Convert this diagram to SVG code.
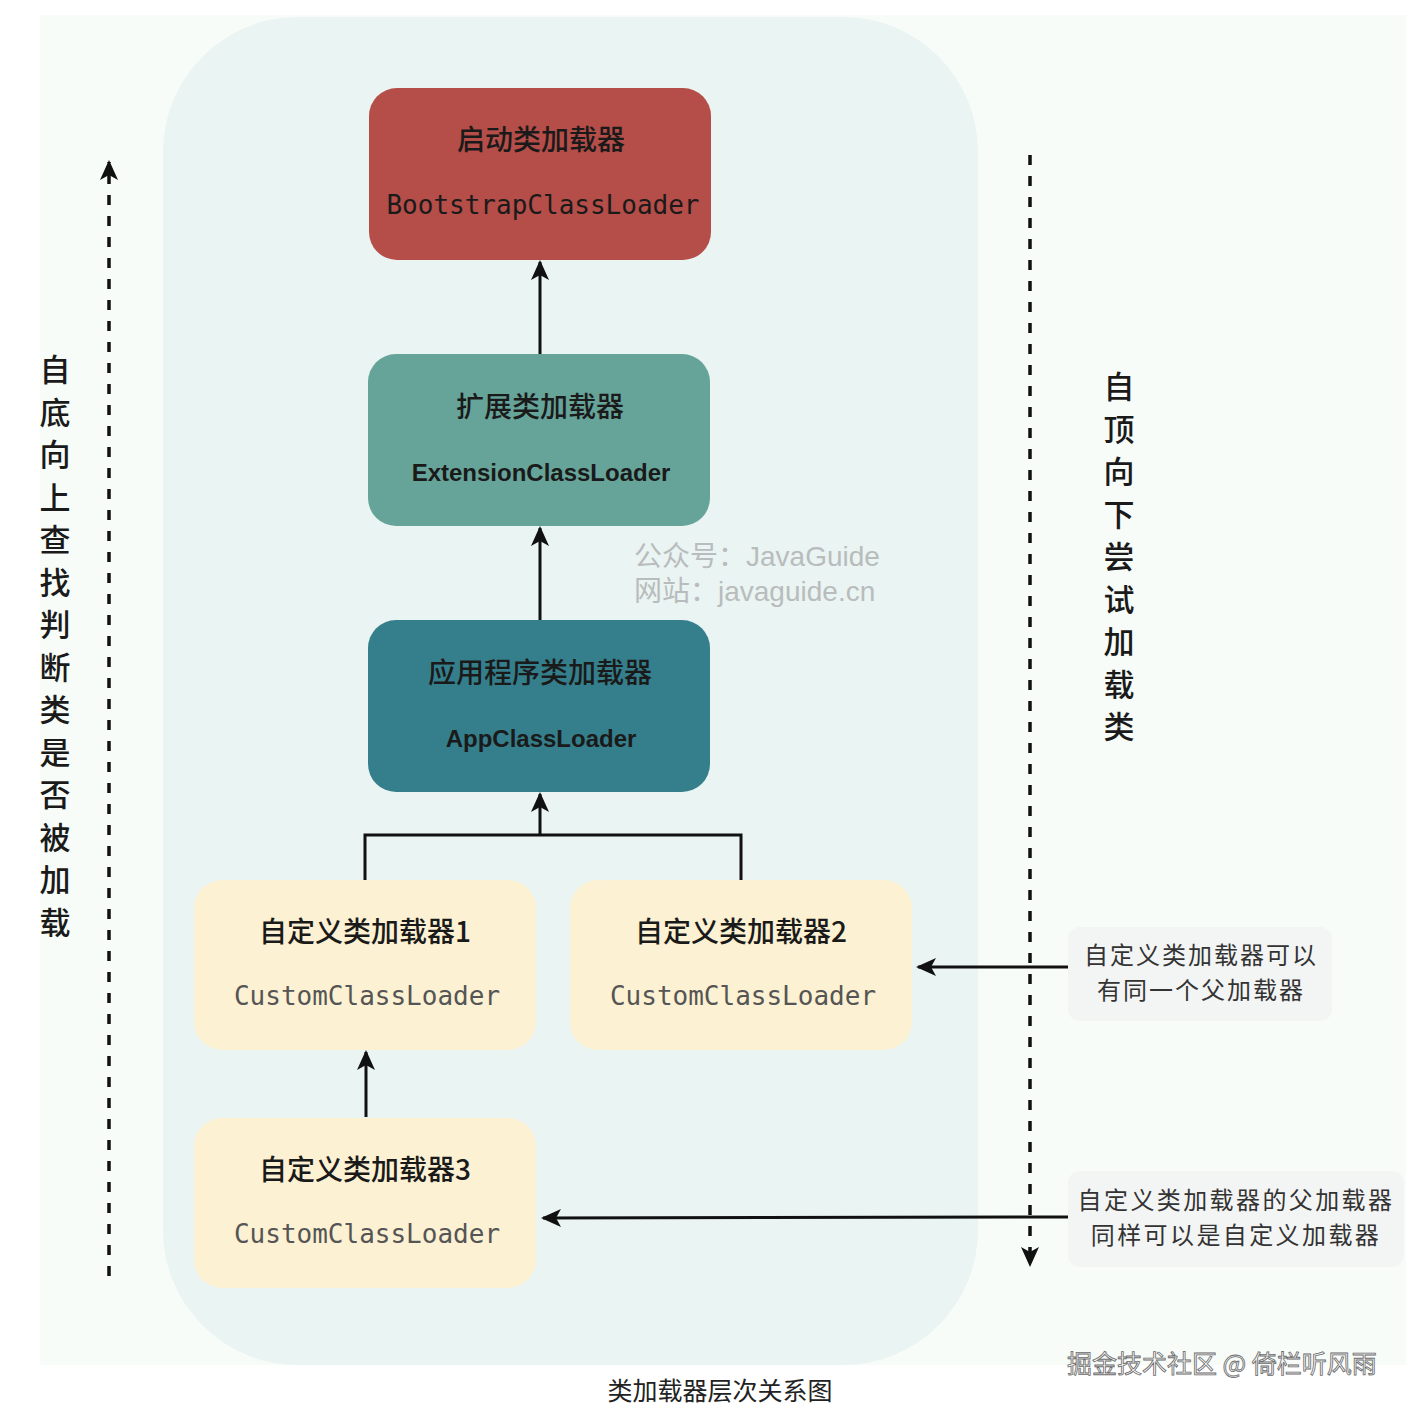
<svg xmlns="http://www.w3.org/2000/svg" width="1412" height="1412" viewBox="0 0 1412 1412">
<defs>
<style>
.title{font-family:"Noto Sans CJK SC",sans-serif;font-size:28px;font-weight:500;fill:#1a1a1a;text-anchor:middle;}
.mono{font-family:"DejaVu Sans Mono","Liberation Mono",monospace;font-size:26px;text-anchor:middle;}
.sans{font-family:"Liberation Sans",Arial,sans-serif;font-size:24px;font-weight:bold;fill:#1a1a1a;text-anchor:middle;}
.vert{font-family:"Noto Sans CJK SC",sans-serif;font-size:31px;font-weight:500;fill:#1a1a1a;text-anchor:middle;}
.note{font-family:"Noto Sans CJK SC",sans-serif;font-size:24px;fill:#333;text-anchor:middle;letter-spacing:2px;}
.conn{stroke:#111;stroke-width:3;fill:none;}
.dash{stroke:#111;stroke-width:3.5;fill:none;stroke-dasharray:10 11;}
.wm{font-family:"Liberation Sans","Noto Sans CJK SC",sans-serif;font-size:28px;fill:#b9bcbc;}
</style>
<marker id="ah" viewBox="0 0 20 20" refX="18" refY="10" markerWidth="20" markerHeight="20" markerUnits="userSpaceOnUse" orient="auto">
<path d="M0,1 L20,10 L0,19 L5,10 Z" fill="#111"/>
</marker>
</defs>
<rect x="0" y="0" width="1412" height="1412" fill="#ffffff"/>
<rect x="40" y="15" width="1366" height="1350" fill="#f7fcf8"/>
<rect x="163" y="17" width="815" height="1348" rx="135" fill="#eaf4f3"/>

<g id="watermark">
<text class="wm" x="634" y="566">公众号：JavaGuide<tspan x="634" y="601">网站：javaguide.cn</tspan></text>
</g>

<g id="connectors">
<line class="conn" x1="540" y1="354" x2="540" y2="262" marker-end="url(#ah)"/>
<line class="conn" x1="540" y1="620" x2="540" y2="528" marker-end="url(#ah)"/>
<polyline class="conn" points="365,880 365,835 741,835 741,880"/>
<line class="conn" x1="540" y1="835" x2="540" y2="794" marker-end="url(#ah)"/>
<line class="conn" x1="366" y1="1117" x2="366" y2="1052" marker-end="url(#ah)"/>
<line class="conn" x1="1068" y1="967" x2="918" y2="967" marker-end="url(#ah)"/>
<line class="conn" x1="1068" y1="1217" x2="543" y2="1218" marker-end="url(#ah)"/>
<line class="dash" x1="109" y1="1276" x2="109" y2="162" marker-end="url(#ah)"/>
<line class="dash" x1="1030" y1="155" x2="1030" y2="1265" marker-end="url(#ah)"/>
</g>

<g id="bootstrap">
<rect x="369" y="88" width="342" height="172" rx="28" fill="#b54d48"/>
<text class="title" x="541" y="150">启动类加载器</text>
<text class="mono" x="543" y="214" fill="#1a1a1a">BootstrapClassLoader</text>
</g>
<g id="extension">
<rect x="368" y="354" width="342" height="172" rx="28" fill="#66a399"/>
<text class="title" x="540" y="417">扩展类加载器</text>
<text class="sans" x="541" y="481">ExtensionClassLoader</text>
</g>
<g id="app">
<rect x="368" y="620" width="342" height="172" rx="28" fill="#357f8c"/>
<text class="title" x="540" y="683">应用程序类加载器</text>
<text class="sans" x="541" y="747">AppClassLoader</text>
</g>
<g id="custom1">
<rect x="194" y="880" width="342" height="170" rx="28" fill="#fcf1d2"/>
<text class="title" x="365" y="942">自定义类加载器1</text>
<text class="mono" x="367" y="1005" fill="#555">CustomClassLoader</text>
</g>
<g id="custom2">
<rect x="570" y="880" width="342" height="170" rx="28" fill="#fcf1d2"/>
<text class="title" x="741" y="942">自定义类加载器2</text>
<text class="mono" x="743" y="1005" fill="#555">CustomClassLoader</text>
</g>
<g id="custom3">
<rect x="194" y="1118" width="342" height="170" rx="28" fill="#fcf1d2"/>
<text class="title" x="365" y="1180">自定义类加载器3</text>
<text class="mono" x="367" y="1243" fill="#555">CustomClassLoader</text>
</g>

<g id="left-label">
<text class="vert" x="55" y="381">自</text>
<text class="vert" x="55" y="424">底</text>
<text class="vert" x="55" y="466">向</text>
<text class="vert" x="55" y="509">上</text>
<text class="vert" x="55" y="551">查</text>
<text class="vert" x="55" y="594">找</text>
<text class="vert" x="55" y="636">判</text>
<text class="vert" x="55" y="679">断</text>
<text class="vert" x="55" y="721">类</text>
<text class="vert" x="55" y="764">是</text>
<text class="vert" x="55" y="806">否</text>
<text class="vert" x="55" y="849">被</text>
<text class="vert" x="55" y="891">加</text>
<text class="vert" x="55" y="934">载</text>
</g>
<g id="right-label">
<text class="vert" x="1119" y="398">自</text>
<text class="vert" x="1119" y="441">顶</text>
<text class="vert" x="1119" y="483">向</text>
<text class="vert" x="1119" y="526">下</text>
<text class="vert" x="1119" y="568">尝</text>
<text class="vert" x="1119" y="611">试</text>
<text class="vert" x="1119" y="653">加</text>
<text class="vert" x="1119" y="696">载</text>
<text class="vert" x="1119" y="738">类</text>
</g>

<g id="note1">
<rect x="1068" y="927" width="264" height="94" rx="12" fill="#f3f5f4"/>
<text class="note" x="1201" y="964">自定义类加载器可以</text>
<text class="note" x="1201" y="999">有同一个父加载器</text>
</g>
<g id="note2">
<rect x="1068" y="1171" width="336" height="96" rx="12" fill="#f3f5f4"/>
<text class="note" x="1236" y="1209" style="letter-spacing:2.4px">自定义类加载器的父加载器</text>
<text class="note" x="1236" y="1244" style="letter-spacing:2.4px">同样可以是自定义加载器</text>
</g>

<g id="footer">
<text x="1067" y="1373" font-family="Noto Sans CJK SC,sans-serif" font-size="25" fill="#f6f6f6" stroke="#6a6a6a" stroke-width="0.8">掘金技术社区 @ 倚栏听风雨</text>
<text x="720" y="1400" font-family="Noto Sans CJK SC,sans-serif" font-size="25" fill="#222" text-anchor="middle">类加载器层次关系图</text>
</g>
</svg>
